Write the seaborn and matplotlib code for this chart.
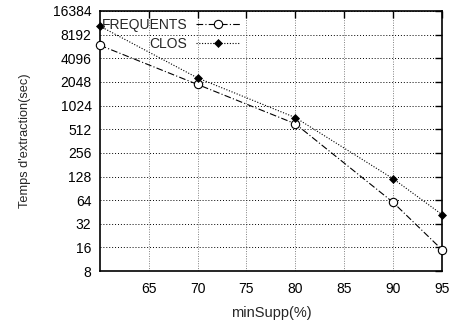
import matplotlib
matplotlib.use("Agg")
import matplotlib.pyplot as plt
import seaborn as sns
import pandas as pd
from matplotlib.ticker import FixedLocator, FixedFormatter

# données
min_supp = [60, 70, 80, 90, 95]
frequents = [6000, 1900, 600, 60, 15]
clos = [10500, 2300, 720, 120, 42]
x_ticks = [65, 70, 75, 80, 85, 90, 95]
y_ticks = [8, 16, 32, 64, 128, 256, 512, 1024, 2048, 4096, 8192, 16384]

sns.set_style("white")
plt.rcParams['font.family'] = ['Liberation Sans', 'DejaVu Sans']

df = pd.DataFrame({"minSupp": min_supp * 2,
                   "temps": frequents + clos,
                   "serie": ["FREQUENTS"] * len(min_supp) + ["CLOS"] * len(min_supp)})

fig = plt.figure(figsize=(4.58, 3.22), dpi=100)
ax = fig.add_axes([0.218, 0.158, 0.747, 0.808])

styles = {
    "FREQUENTS": dict(linestyle=(0, (6, 2, 1, 2)), marker="o", markerfacecolor="white",
                      markeredgecolor="black", markersize=6, markeredgewidth=0.8),
    "CLOS": dict(linestyle=(0, (1, 1.5)), marker="D", markerfacecolor="black",
                 markeredgecolor="black", markersize=4, markeredgewidth=0.5),
}
for name, sub in df.groupby("serie", sort=False):
    sns.lineplot(data=sub, x="minSupp", y="temps", ax=ax, color="black", linewidth=0.8,
                 label=name, clip_on=False, zorder=3, **styles[name])

ax.set_yscale("log", base=2)
ax.set_xlim(60, 95)
ax.set_ylim(8, 16384)
ax.yaxis.set_major_locator(FixedLocator(y_ticks))
ax.yaxis.set_major_formatter(FixedFormatter([str(v) for v in y_ticks]))
ax.yaxis.set_minor_locator(FixedLocator([]))
ax.set_xticks(x_ticks)
ax.set_xticklabels([str(v) for v in x_ticks])

ax.grid(True, axis="y", linestyle=(0, (1, 2)), color="black", linewidth=0.7)
ax.grid(True, axis="x", linestyle=(0, (1, 1.5)), color="gray", linewidth=0.7)
ax.tick_params(direction="in", length=5, width=1, top=True, right=True,
               labelsize=10, colors="black")
ax.tick_params(axis="x", pad=8)
ax.tick_params(axis="y", pad=6)
for s in ax.spines.values():
    s.set_color("black")
    s.set_linewidth(1.2)

ax.set_xlabel("minSupp(%)", fontsize=10.5, labelpad=7)
ax.set_ylabel("Temps d'extraction(sec)", fontsize=9.2, labelpad=16)

leg = ax.legend(loc="upper left", bbox_to_anchor=(-0.015, 1.0), frameon=False,
                markerfirst=False, fontsize=10, handlelength=3.2, handletextpad=0.6,
                borderaxespad=0.1, labelspacing=0.35)
for col in leg._legend_handle_box.get_children():
    col.align = "right"

fig.savefig("out.png", dpi=100)
